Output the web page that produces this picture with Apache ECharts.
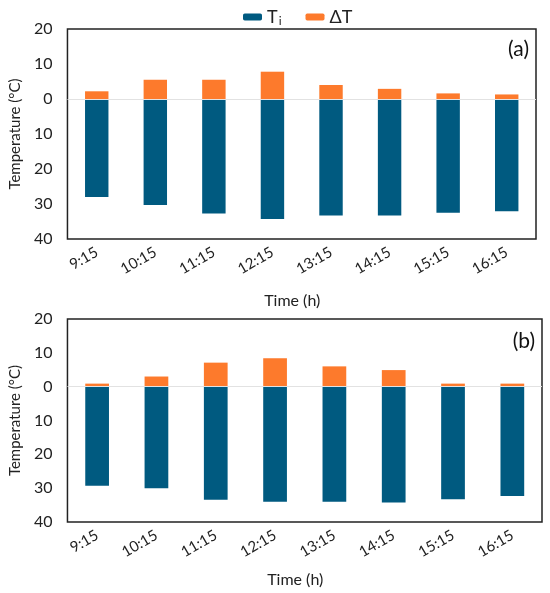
<!DOCTYPE html>
<html>
<head>
<meta charset="utf-8">
<script src="https://cdn.jsdelivr.net/npm/echarts@6/dist/echarts.min.js"></script>
<style>html,body{margin:0;padding:0;background:#fff;}#c{width:550px;height:593px;}</style>
</head>
<body>
<div id="c"></div>
<script>
const categories = ['9:15','10:15','11:15','12:15','13:15','14:15','15:15','16:15'];
const tiA = [28.0, 30.3, 32.7, 34.3, 33.3, 33.3, 32.5, 32.1];
const dtA = [2.2, 5.5, 5.5, 7.8, 4.0, 2.9, 1.6, 1.3];
const tiB = [29.3, 30.0, 33.4, 34.0, 34.0, 34.2, 33.3, 32.3];
const dtB = [0.9, 3.0, 7.1, 8.4, 6.0, 4.9, 0.9, 0.9];
const yMin = -40, yMax = 20, yStep = 10;

const FONT = 'Lato';
const TI_COLOR = '#005a80';
const DT_COLOR = '#fd7a2c';

function xAxisFor(i) {
  return {
    type: 'category', gridIndex: i, data: categories,
    axisLine: { show: false, onZero: false },
    axisTick: { show: false },
    axisLabel: { rotate: 30, margin: 12, color: '#222', fontSize: 15, fontFamily: FONT },
    name: 'Time (h)', nameLocation: 'middle', nameGap: i === 0 ? 54 : 50,
    nameTextStyle: { color: '#222', fontSize: 16, fontFamily: FONT, padding: [0, 19, 0, 0] }
  };
}
function yAxisFor(i) {
  return {
    type: 'value', gridIndex: i, min: yMin, max: yMax, interval: yStep,
    axisLine: { show: false }, axisTick: { show: false }, splitLine: { show: false },
    axisLabel: { margin: 15, color: '#222', fontSize: 16, fontFamily: FONT,
      formatter: v => String(Math.abs(v)) },
    name: 'Temperature (°C)', nameLocation: 'middle', nameGap: 42,
    nameTextStyle: { color: '#222', fontSize: 15, fontFamily: FONT }
  };
}
const zeroLine = {
  silent: true, symbol: 'none', label: { show: false },
  lineStyle: { color: '#e2e2e2', type: 'solid', width: 1 },
  data: [{ yAxis: 0 }]
};
function seriesFor(i, ti, dt) {
  return [
    { name: 'Ti', type: 'bar', xAxisIndex: i, yAxisIndex: i, stack: 's' + i, barWidth: '40%',
      itemStyle: { color: TI_COLOR }, data: ti.map(v => -v), markLine: zeroLine, z: 2 },
    { name: 'ΔT', type: 'bar', xAxisIndex: i, yAxisIndex: i, stack: 's' + i, barWidth: '40%',
      itemStyle: { color: DT_COLOR }, data: dt, z: 2 }
  ];
}

const chart = echarts.init(document.getElementById('c'));
chart.setOption({
  animation: false,
  backgroundColor: '#fff',
  textStyle: { fontFamily: FONT },
  legend: {
    top: 3, left: 238, itemWidth: 19, itemHeight: 7, itemGap: 24,
    data: ['Ti', 'ΔT'],
    formatter: n => n === 'Ti' ? '{a|T}{s|i}' : '{a|ΔT}',
    textStyle: { color: '#222', fontFamily: FONT,
      rich: { a: { fontSize: 18, fontFamily: FONT, color: '#222' },
              s: { fontSize: 12, fontFamily: FONT, color: '#222', verticalAlign: 'bottom', padding: [9, 0, 0, 1] } } }
  },
  title: [
    { text: '(a)', right: 16, top: 34, textStyle: { fontSize: 21, fontWeight: 'normal', color: '#111', fontFamily: FONT } },
    { text: '(b)', right: 10, top: 326, textStyle: { fontSize: 21, fontWeight: 'normal', color: '#111', fontFamily: FONT } }
  ],
  grid: [
    { left: 62, right: 14, top: 29, height: 210, show: true, borderColor: '#222', borderWidth: 1.5, backgroundColor: 'transparent' },
    { left: 64, right: 8, top: 319, height: 203, show: true, borderColor: '#222', borderWidth: 1.5, backgroundColor: 'transparent' }
  ],
  xAxis: [xAxisFor(0), xAxisFor(1)],
  yAxis: [yAxisFor(0), yAxisFor(1)],
  series: [...seriesFor(0, tiA, dtA), ...seriesFor(1, tiB, dtB)]
});
</script>
</body>
</html>
